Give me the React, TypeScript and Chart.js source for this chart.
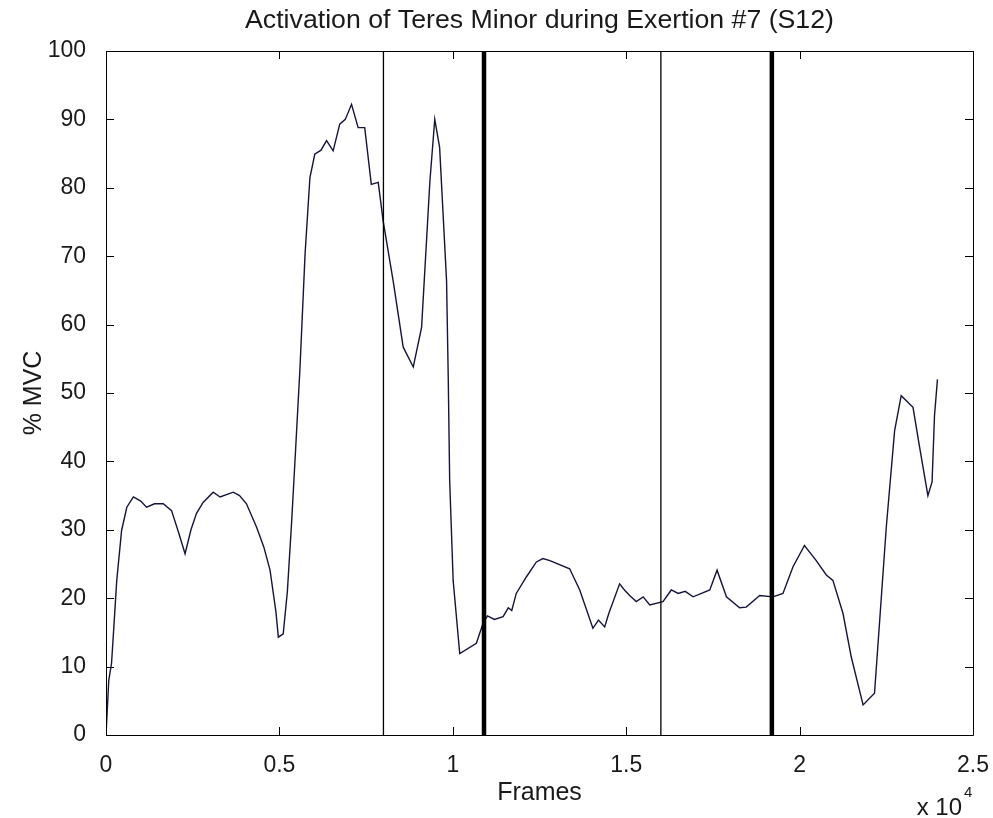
import React, { useEffect, useRef } from "react";
import { Chart, registerables } from "chart.js";

Chart.register(...registerables);

const TITLE = "Activation of Teres Minor during Exertion #7 (S12)";
const X_LABEL = "Frames";
const Y_LABEL = "% MVC";
const X_EXPONENT = "x 10";
const X_EXPONENT_POWER = "4";

// Frame index (raw frames) of each traced point
const frames = [
  0, 30, 80, 160, 220, 310, 450, 600, 790, 1000, 1170, 1400, 1650, 1890, 2100,
  2280, 2450, 2610, 2800, 3090, 3290, 3670, 3850, 4050, 4340, 4550, 4730, 4900,
  4970, 5110, 5230, 5350, 5470, 5590, 5740, 5880, 6020, 6200, 6360, 6550, 6740,
  6900, 7080, 7270, 7460, 7650, 7850, 7990, 8280, 8570, 8860, 9100, 9340, 9480,
  9620, 9820, 9870, 9910, 10010, 10200, 10680, 10870, 11000, 11200, 11450,
  11600, 11700, 11830, 12120, 12410, 12600, 12800, 13370, 13660, 14040, 14200,
  14380, 14500, 14810, 14950, 15100, 15290, 15490, 15680, 16060, 16300, 16500,
  16700, 16930, 17410, 17620, 17890, 18270, 18460, 18850, 19230, 19520, 19810,
  20140, 20480, 20770, 20960, 21250, 21490, 21830, 22160, 22310, 22500, 22740,
  22930, 23270, 23460, 23700, 23820, 23890, 23975,
];

// % MVC at each frame
const mvc = [
  0, 3, 8, 10.5, 15.3, 22.6, 29.9, 33.3, 34.8, 34.2, 33.3, 33.8, 33.8, 32.8,
  29.5, 26.5, 30, 32.4, 34, 35.5, 34.8, 35.5, 35, 33.8, 30.4, 27.5, 24.1, 18,
  14.3, 14.8, 21, 30.9, 42, 53.3, 70.3, 81.5, 84.9, 85.5, 86.9, 85.4, 89.3, 90,
  92.2, 88.8, 88.8, 80.5, 80.8, 75.2, 66.4, 56.7, 53.8, 59.6, 81, 90, 85.9,
  66.4, 51.8, 37.2, 22.6, 11.9, 13.4, 16.3, 17.4, 16.9, 17.3, 18.6, 18.2, 20.7,
  23.1, 25.3, 25.8, 25.5, 24.3, 21.2, 15.6, 16.8, 15.8, 17.8, 22.1, 21.2, 20.4,
  19.5, 20.2, 19, 19.5, 21.2, 20.7, 21, 20.2, 21.2, 24.1, 20.2, 18.6, 18.7,
  20.4, 20.2, 20.7, 24.6, 27.7, 25.5, 23.4, 22.6, 17.8, 11.4, 4.4, 6.1, 16.8,
  30.4, 44.5, 49.6, 47.9, 42.1, 35, 37, 46.7, 52,
];

// Phase markers (frame positions)
const thinMarkers = [8000, 16000];
const thickMarkers = [10900, 19200];

const X_MIN = 0;
const X_MAX = 25000;
const X_STEP = 5000;
const X_SCALE_DIVISOR = 10000;
const Y_MIN = 0;
const Y_MAX = 100;
const Y_STEP = 10;

const FAMILY = "'Liberation Sans', Arial, sans-serif";
const TEXT_COLOR = "#1a1a1a";
const TICK_FONT = { family: FAMILY, size: 23 };
const LABEL_FONT = { family: FAMILY, size: 25 };

const framePlugin = {
  id: "matlabFrame",
  afterDatasetsDraw(chart: any) {
    const { ctx, chartArea, scales } = chart;
    const { left, right, top, bottom } = chartArea;
    const xs = scales.x;
    const ys = scales.y;
    const TL = 8;
    ctx.save();
    ctx.strokeStyle = "#000";
    ctx.lineWidth = 1;
    ctx.beginPath();
    ctx.rect(Math.round(left) + 0.5, Math.round(top) + 0.5, Math.round(right - left), Math.round(bottom - top));
    xs.ticks.forEach((t: any) => {
      const px = Math.round(xs.getPixelForValue(t.value)) + 0.5;
      ctx.moveTo(px, bottom);
      ctx.lineTo(px, bottom - TL);
      ctx.moveTo(px, top);
      ctx.lineTo(px, top + TL);
    });
    ys.ticks.forEach((t: any) => {
      const py = Math.round(ys.getPixelForValue(t.value)) + 0.5;
      ctx.moveTo(left, py);
      ctx.lineTo(left + TL, py);
      ctx.moveTo(right, py);
      ctx.lineTo(right - TL, py);
    });
    ctx.stroke();

    // title, centred over the plot area
    ctx.fillStyle = TEXT_COLOR;
    ctx.textAlign = "center";
    ctx.textBaseline = "alphabetic";
    ctx.font = `26.7px ${FAMILY}`;
    ctx.fillText(TITLE, (left + right) / 2, 28);

    // exponent note under the x axis
    ctx.textAlign = "right";
    ctx.font = `24px ${FAMILY}`;
    const baseX = right - 11;
    ctx.fillText(X_EXPONENT, baseX, 815);
    ctx.textAlign = "left";
    ctx.font = `15px ${FAMILY}`;
    ctx.fillText(X_EXPONENT_POWER, baseX + 2, 797);
    ctx.restore();
  },
};

export default function App() {
  const ref = useRef<HTMLCanvasElement | null>(null);

  useEffect(() => {
    document.body.style.margin = "0";
    const canvas = ref.current;
    if (!canvas) return;

    const curve = frames.map((f, i) => ({ x: f, y: mvc[i] }));
    const markerSet = (xs: number[], width: number) =>
      xs.map((m) => ({
        data: [
          { x: m, y: Y_MIN },
          { x: m, y: Y_MAX },
        ],
        borderColor: "#000",
        borderWidth: width,
        pointRadius: 0,
        showLine: true,
        fill: false,
      }));

    const chart = new Chart(canvas, {
      type: "scatter",
      data: {
        datasets: [
          ...markerSet(thinMarkers, 1.3),
          ...markerSet(thickMarkers, 4.5),
          {
            data: curve,
            borderColor: "#14143c",
            borderWidth: 1.4,
            pointRadius: 0,
            showLine: true,
            fill: false,
            tension: 0,
          },
        ],
      },
      options: {
        animation: false,
        responsive: false,
        maintainAspectRatio: false,
        layout: { padding: { left: 0, right: 20, top: 51, bottom: 0 } },
        plugins: {
          legend: { display: false },
          tooltip: { enabled: false },
          title: { display: false },
        },
        scales: {
          x: {
            type: "linear",
            min: X_MIN,
            max: X_MAX,
            grid: { display: false },
            border: { display: false },
            afterFit: (s: any) => {
              s.height = 83;
              s.paddingLeft = 0;
              s.paddingRight = 0;
            },
            ticks: {
              stepSize: X_STEP,
              color: TEXT_COLOR,
              font: TICK_FONT,
              padding: 9,
              maxRotation: 0,
              autoSkip: false,
              callback: (v: any) => String(Number(v) / X_SCALE_DIVISOR),
            },
            title: {
              display: true,
              text: X_LABEL,
              color: TEXT_COLOR,
              font: LABEL_FONT,
              padding: { top: 0, bottom: 10 },
            },
          },
          y: {
            type: "linear",
            min: Y_MIN,
            max: Y_MAX,
            grid: { display: false },
            border: { display: false },
            afterFit: (s: any) => {
              s.width = 106;
              s.paddingTop = 0;
              s.paddingBottom = 0;
            },
            ticks: {
              stepSize: Y_STEP,
              color: TEXT_COLOR,
              font: TICK_FONT,
              padding: 12,
            },
            title: {
              display: true,
              text: Y_LABEL,
              color: TEXT_COLOR,
              font: LABEL_FONT,
              padding: { top: 19, bottom: 0 },
            },
          },
        },
      },
      plugins: [framePlugin],
    });

    return () => chart.destroy();
  }, []);

  return (
    <div style={{ position: "absolute", left: 0, top: 0, width: 993, height: 818, background: "#fff" }}>
      <canvas ref={ref} width={993} height={818} style={{ display: "block", width: 993, height: 818 }} />
    </div>
  );
}
